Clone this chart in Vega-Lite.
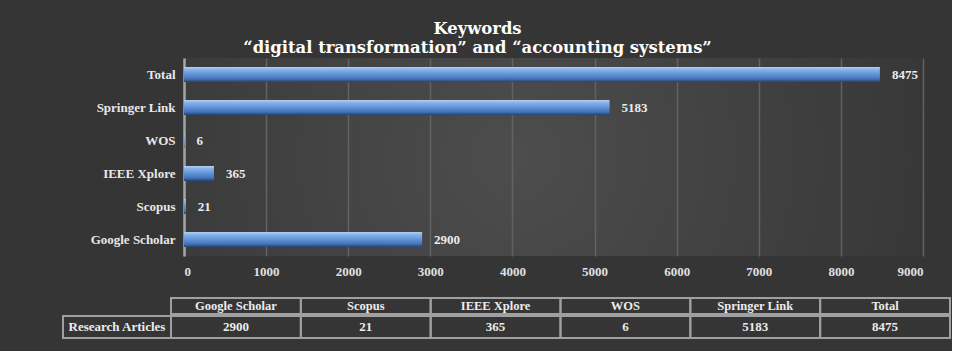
{
  "$schema": "https://vega.github.io/schema/vega-lite/v6.json",
  "background": "#353535",
  "padding": {"left": 62, "top": 20, "right": 0, "bottom": 12},
  "datasets": {
    "articles": [
      {"source": "Google Scholar", "count": 2900},
      {"source": "Scopus", "count": 21},
      {"source": "IEEE Xplore", "count": 365},
      {"source": "WOS", "count": 6},
      {"source": "Springer Link", "count": 5183},
      {"source": "Total", "count": 8475}
    ],
    "rowhead": [{"label": "Research Articles"}]
  },
  "title": {
    "text": ["Keywords", "“digital transformation” and “accounting systems”"],
    "anchor": "middle",
    "frame": "bounds",
    "dx": -29,
    "font": "DejaVu Serif",
    "fontSize": 16.4,
    "fontWeight": "bold",
    "color": "#ffffff",
    "lineHeight": 19,
    "offset": 2
  },
  "spacing": 19,
  "vconcat": [
    {
      "width": 739,
      "height": 198,
      "view": {
        "stroke": null,
        "fill": {
          "gradient": "radial",
          "x1": 0.45, "y1": 0.5, "r1": 0,
          "x2": 0.45, "y2": 0.5, "r2": 0.6,
          "stops": [
            {"offset": 0, "color": "#4d4d4d"},
            {"offset": 1, "color": "#363636"}
          ]
        }
      },
      "data": {"name": "articles"},
      "encoding": {
        "y": {
          "field": "source",
          "type": "nominal",
          "sort": ["Total", "Springer Link", "WOS", "IEEE Xplore", "Scopus", "Google Scholar"],
          "scale": {"paddingInner": 0.545, "paddingOuter": 0.2725},
          "axis": {
            "title": null,
            "domain": true,
            "domainColor": "#a3a3a3",
            "domainWidth": 2.5,
            "ticks": false,
            "labelFont": "Liberation Serif",
            "labelFontSize": 13,
            "labelFontWeight": "bold",
            "labelColor": "#e8e8e8",
            "labelPadding": 9,
            "grid": false
          }
        },
        "x": {
          "field": "count",
          "type": "quantitative",
          "scale": {"domain": [0, 9000], "nice": false},
          "axis": {
            "title": null,
            "values": [0, 1000, 2000, 3000, 4000, 5000, 6000, 7000, 8000, 9000],
            "format": "d",
            "domain": false,
            "ticks": false,
            "grid": true,
            "gridColor": "#626262",
            "gridWidth": 1.5,
            "labelFont": "Liberation Serif",
            "labelFontSize": 13,
            "labelFontWeight": "bold",
            "labelColor": "#e0e0e0",
            "labelPadding": 9
          }
        }
      },
      "layer": [
        {
          "mark": {
            "type": "bar",
            "color": {
              "gradient": "linear",
              "x1": 0, "y1": 0, "x2": 0, "y2": 1,
              "stops": [
                {"offset": 0, "color": "#b4d0f4"},
                {"offset": 0.15, "color": "#8db5ea"},
                {"offset": 0.5, "color": "#5f93d8"},
                {"offset": 0.8, "color": "#4472b8"},
                {"offset": 1, "color": "#26426a"}
              ]
            }
          }
        },
        {
          "mark": {
            "type": "text",
            "align": "left",
            "baseline": "middle",
            "dx": 12,
            "font": "Liberation Serif",
            "fontSize": 13,
            "fontWeight": "bold",
            "color": "#ececec"
          },
          "encoding": {"text": {"field": "count", "type": "quantitative", "format": "d"}}
        }
      ]
    },
    {
      "spacing": 0,
      "vconcat": [
        {
          "width": 766,
          "height": 16,
          "view": {"stroke": null},
          "data": {"name": "articles"},
          "encoding": {
            "x": {
              "field": "source",
              "type": "nominal",
              "sort": ["Google Scholar", "Scopus", "IEEE Xplore", "WOS", "Springer Link", "Total"],
              "scale": {"range": [-13, 766], "paddingInner": 0, "paddingOuter": 0},
              "axis": null
            }
          },
          "layer": [
            {"mark": {"type": "rect", "fillOpacity": 0, "stroke": "#a0a0a0", "strokeWidth": 2}},
            {
              "mark": {"type": "text", "font": "Liberation Serif", "fontSize": 12.5, "fontWeight": "bold", "color": "#ececec", "baseline": "middle"},
              "encoding": {"text": {"field": "source"}}
            }
          ]
        },
        {
          "width": 766,
          "height": 22,
          "view": {"stroke": null},
          "layer": [
            {
              "data": {"name": "articles"},
              "encoding": {
                "x": {
                  "field": "source",
                  "type": "nominal",
                  "sort": ["Google Scholar", "Scopus", "IEEE Xplore", "WOS", "Springer Link", "Total"],
                  "scale": {"range": [-13, 766], "paddingInner": 0, "paddingOuter": 0},
                  "axis": null
                }
              },
              "layer": [
                {"mark": {"type": "rect", "fillOpacity": 0, "stroke": "#a0a0a0", "strokeWidth": 2}},
                {
                  "mark": {"type": "text", "font": "Liberation Serif", "fontSize": 13, "fontWeight": "bold", "color": "#ececec", "baseline": "middle"},
                  "encoding": {"text": {"field": "count", "type": "quantitative", "format": "d"}}
                }
              ]
            },
            {
              "data": {"name": "rowhead"},
              "encoding": {
                "x": {
                  "field": "label",
                  "type": "nominal",
                  "scale": {"range": [-121, -13], "paddingInner": 0, "paddingOuter": 0},
                  "axis": null
                }
              },
              "layer": [
                {"mark": {"type": "rect", "fillOpacity": 0, "stroke": "#a0a0a0", "strokeWidth": 2}},
                {
                  "mark": {"type": "text", "font": "Liberation Serif", "fontSize": 13, "fontWeight": "bold", "color": "#ececec", "baseline": "middle"},
                  "encoding": {"text": {"field": "label"}}
                }
              ]
            }
          ],
          "resolve": {"scale": {"x": "independent"}}
        }
      ]
    }
  ]
}
